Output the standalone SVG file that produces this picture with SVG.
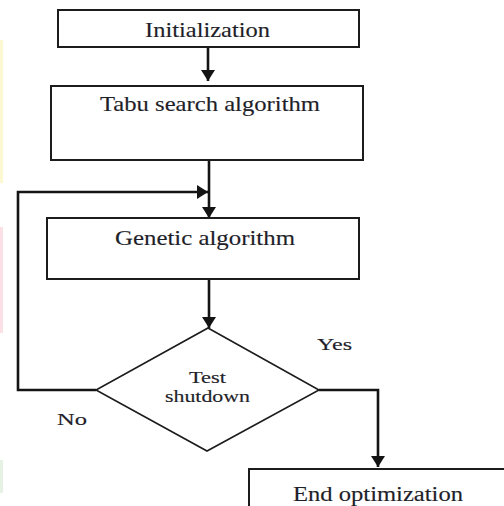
<svg xmlns="http://www.w3.org/2000/svg" width="504" height="506" viewBox="0 0 504 506">
  <style>
    .box { fill: #fff; stroke: #1c1c1c; stroke-width: 2; }
    .dia { fill: #fff; stroke: #1c1c1c; stroke-width: 1.6; }
    .lbl { fill: #1f1f2a; stroke: #1f1f2a; stroke-width: 0.15; }
    .conn { fill: none; stroke: #141414; stroke-width: 2.6; }
  </style>
  <defs>
    <marker id="arrow" viewBox="0 0 11 14" refX="11" refY="7" markerWidth="11" markerHeight="14" markerUnits="userSpaceOnUse" orient="auto">
      <path d="M0,0 L11,7 L0,14 z" fill="#141414"/>
    </marker>
  </defs>

  <rect width="504" height="506" fill="#fff"/>
  <!-- faint colour strips along the left margin -->
  <rect x="0" y="40" width="3" height="143" fill="#fbf8d2"/>
  <rect x="0" y="227" width="3" height="106" fill="#fbe0e6"/>
  <rect x="0" y="460" width="3" height="33" fill="#e6f3e4"/>

  <g id="connectors">
    <path class="conn" d="M208,47 V81" marker-end="url(#arrow)"/>
    <path class="conn" d="M209,160 V218" marker-end="url(#arrow)"/>
    <path class="conn" d="M96,390 H18 V192 H208" marker-end="url(#arrow)"/>
    <path class="conn" d="M209,279 V328" marker-end="url(#arrow)"/>
    <path class="conn" d="M319,390 H378 V467" marker-end="url(#arrow)"/>
  </g>

  <g font-family="'Liberation Serif', 'DejaVu Serif', serif">
    <g id="init">
      <rect class="box" x="58" y="10" width="301" height="37"/>
      <text class="lbl" font-size="21" x="207.5" y="36.5" text-anchor="middle" textLength="125" lengthAdjust="spacingAndGlyphs">Initialization</text>
    </g>

    <g id="tabu">
      <rect class="box" x="51" y="86" width="312" height="74"/>
      <text class="lbl" font-size="21" x="210" y="110.5" text-anchor="middle" textLength="220" lengthAdjust="spacingAndGlyphs">Tabu search algorithm</text>
    </g>

    <g id="genetic">
      <rect class="box" x="47" y="218" width="312" height="61"/>
      <text class="lbl" font-size="21" x="205" y="245" text-anchor="middle" textLength="180" lengthAdjust="spacingAndGlyphs">Genetic algorithm</text>
    </g>

    <g id="test">
      <polygon class="dia" points="208,328 319,390 207,451 96,390"/>
      <text class="lbl" font-size="16" x="207.5" y="383" text-anchor="middle" textLength="37" lengthAdjust="spacingAndGlyphs">Test</text>
      <text class="lbl" font-size="16" x="207.5" y="401.5" text-anchor="middle" textLength="85" lengthAdjust="spacingAndGlyphs">shutdown</text>
    </g>

    <g id="end">
      <path class="box" d="M249,506 V469 H506"/>
      <text class="lbl" font-size="20" x="378" y="501" text-anchor="middle" textLength="170" lengthAdjust="spacingAndGlyphs">End optimization</text>
    </g>

    <g id="branch-labels">
      <text class="lbl" font-size="17" x="317" y="350" textLength="35" lengthAdjust="spacingAndGlyphs">Yes</text>
      <text class="lbl" font-size="17" x="57" y="425" textLength="30" lengthAdjust="spacingAndGlyphs">No</text>
    </g>
  </g>
</svg>
